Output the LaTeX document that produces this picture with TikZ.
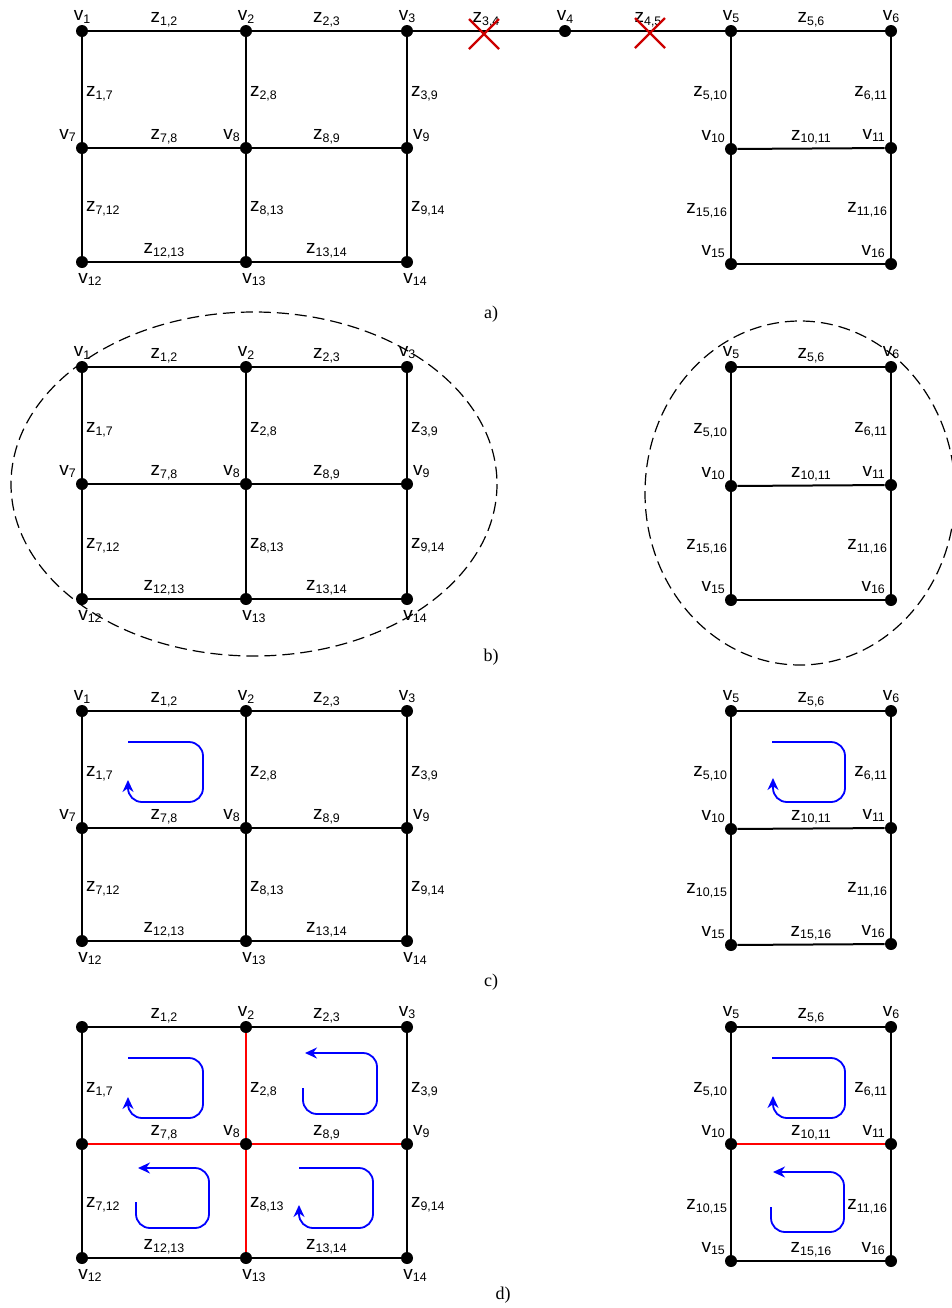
\documentclass[tikz,border=0pt]{standalone}
\usepackage{fontspec}
\setmainfont{Liberation Sans}
\newfontfamily\tagfont{Liberation Serif}
\usetikzlibrary{arrows.meta}
\newcommand{\edgez}[1]{z\raisebox{-1.3pt}{\fontsize{6.2}{7}\selectfont #1}}
\newcommand{\vertv}[1]{v\raisebox{-1.3pt}{\fontsize{6.2}{7}\selectfont #1}}

\begin{document}
\begin{tikzpicture}[x=0.5pt,y=-0.5pt,font=\fontsize{9.5}{11}\selectfont,
 vx/.style={circle,fill,inner sep=0pt,minimum size=6pt},
 vl/.style={inner sep=0.6pt},
 vb/.style={inner sep=2.2pt,xshift=4pt},
 el/.style={inner sep=1.5pt},
 sl/.style={inner sep=1.5pt,yshift=-2pt},
 ed/.style={line width=1pt},
 hot/.style={ed,red},
 cross/.style={line width=1.1pt,red!80!black},
 ring/.style={line width=0.6pt,dash pattern=on 6pt off 3pt},
 turn/.style={line width=0.9pt,blue,rounded corners=7pt,-{Stealth[length=6pt,width=5.5pt]}},
 paneltag/.style={font=\tagfont\fontsize{9}{11}\selectfont}]
\useasboundingbox (0,0) rectangle (952,1308);
% a) the full network with the two cut lines
\node[vx,label={[vl]above:\vertv{1}}] (a1) at (82,31) {};
\node[vx,label={[vl]above:\vertv{2}}] (a2) at (246,31) {};
\node[vx,label={[vl]above:\vertv{3}}] (a3) at (407,31) {};
\node[vx,label={[vl]above:\vertv{4}}] (a4) at (565,31) {};
\node[vx,label={[vl]above:\vertv{5}}] (a5) at (731,31) {};
\node[vx,label={[vl]above:\vertv{6}}] (a6) at (891,31) {};
\node[vx,label={[vl]above left:\vertv{7}}] (a7) at (82,148) {};
\node[vx,label={[vl]above left:\vertv{8}}] (a8) at (246,148) {};
\node[vx,label={[vl]above right:\vertv{9}}] (a9) at (407,148) {};
\node[vx,label={[vl]above left:\vertv{10}}] (a10) at (731,149) {};
\node[vx,label={[vl]above left:\vertv{11}}] (a11) at (891,148) {};
\node[vx,label={[vb]below:\vertv{12}}] (a12) at (82,262) {};
\node[vx,label={[vb]below:\vertv{13}}] (a13) at (246,262) {};
\node[vx,label={[vb]below:\vertv{14}}] (a14) at (407,262) {};
\node[vx,label={[vl]above left:\vertv{15}}] (a15) at (731,264) {};
\node[vx,label={[vl]above left:\vertv{16}}] (a16) at (891,264) {};
\draw[ed] (a1) -- node[el,above] (za12) {\edgez{1,2}} (a2);
\draw[ed] (a2) -- node[el,above] (za23) {\edgez{2,3}} (a3);
\draw[ed] (a3) -- node[el,above] (za34) {\edgez{3,4}} (a4);
\draw[ed] (a4) -- node[el,above] (za45) {\edgez{4,5}} (a5);
\draw[ed] (a5) -- node[el,above] (za56) {\edgez{5,6}} (a6);
\draw[ed] (a1) -- node[sl,right] (za17) {\edgez{1,7}} (a7);
\draw[ed] (a2) -- node[sl,right] (za28) {\edgez{2,8}} (a8);
\draw[ed] (a3) -- node[sl,right] (za39) {\edgez{3,9}} (a9);
\draw[ed] (a5) -- node[sl,left] (za510) {\edgez{5,10}} (a10);
\draw[ed] (a6) -- node[sl,left] (za611) {\edgez{6,11}} (a11);
\draw[ed] (a7) -- node[el,above] (za78) {\edgez{7,8}} (a8);
\draw[ed] (a8) -- node[el,above] (za89) {\edgez{8,9}} (a9);
\draw[ed] (a10) -- node[el,above] (za1011) {\edgez{10,11}} (a11);
\draw[ed] (a7) -- node[sl,right] (za712) {\edgez{7,12}} (a12);
\draw[ed] (a8) -- node[sl,right] (za813) {\edgez{8,13}} (a13);
\draw[ed] (a9) -- node[sl,right] (za914) {\edgez{9,14}} (a14);
\draw[ed] (a10) -- node[sl,left] (za1516) {\edgez{15,16}} (a15);
\draw[ed] (a11) -- node[sl,left] (za1116) {\edgez{11,16}} (a16);
\draw[ed] (a12) -- node[el,above] (za1213) {\edgez{12,13}} (a13);
\draw[ed] (a13) -- node[el,above] (za1314) {\edgez{13,14}} (a14);
\draw[ed] (a15) -- (a16);
\draw[cross] (469,19) -- (499,49);
\draw[cross] (499,19) -- (469,49);
\draw[cross] (635,18) -- (665,48);
\draw[cross] (665,18) -- (635,48);
\node[paneltag] (taga) at (491,314) {a)};
% b) the two islands
\draw[ring] (254,484) ellipse [x radius=243, y radius=172];
\draw[ring] (800,493) ellipse [x radius=155, y radius=172];
\node[vx,label={[vl]above:\vertv{1}}] (b1) at (82,367) {};
\node[vx,label={[vl]above:\vertv{2}}] (b2) at (246,367) {};
\node[vx,label={[vl]above:\vertv{3}}] (b3) at (407,367) {};
\node[vx,label={[vl]above:\vertv{5}}] (b5) at (731,367) {};
\node[vx,label={[vl]above:\vertv{6}}] (b6) at (891,367) {};
\node[vx,label={[vl]above left:\vertv{7}}] (b7) at (82,484) {};
\node[vx,label={[vl]above left:\vertv{8}}] (b8) at (246,484) {};
\node[vx,label={[vl]above right:\vertv{9}}] (b9) at (407,484) {};
\node[vx,label={[vl]above left:\vertv{10}}] (b10) at (731,486) {};
\node[vx,label={[vl]above left:\vertv{11}}] (b11) at (891,485) {};
\node[vx,label={[vb]below:\vertv{12}}] (b12) at (82,599) {};
\node[vx,label={[vb]below:\vertv{13}}] (b13) at (246,599) {};
\node[vx,label={[vb]below:\vertv{14}}] (b14) at (407,599) {};
\node[vx,label={[vl]above left:\vertv{15}}] (b15) at (731,600) {};
\node[vx,label={[vl]above left:\vertv{16}}] (b16) at (891,600) {};
\draw[ed] (b1) -- node[el,above] (zb12) {\edgez{1,2}} (b2);
\draw[ed] (b2) -- node[el,above] (zb23) {\edgez{2,3}} (b3);
\draw[ed] (b5) -- node[el,above] (zb56) {\edgez{5,6}} (b6);
\draw[ed] (b1) -- node[sl,right] (zb17) {\edgez{1,7}} (b7);
\draw[ed] (b2) -- node[sl,right] (zb28) {\edgez{2,8}} (b8);
\draw[ed] (b3) -- node[sl,right] (zb39) {\edgez{3,9}} (b9);
\draw[ed] (b5) -- node[sl,left] (zb510) {\edgez{5,10}} (b10);
\draw[ed] (b6) -- node[sl,left] (zb611) {\edgez{6,11}} (b11);
\draw[ed] (b7) -- node[el,above] (zb78) {\edgez{7,8}} (b8);
\draw[ed] (b8) -- node[el,above] (zb89) {\edgez{8,9}} (b9);
\draw[ed] (b10) -- node[el,above] (zb1011) {\edgez{10,11}} (b11);
\draw[ed] (b7) -- node[sl,right] (zb712) {\edgez{7,12}} (b12);
\draw[ed] (b8) -- node[sl,right] (zb813) {\edgez{8,13}} (b13);
\draw[ed] (b9) -- node[sl,right] (zb914) {\edgez{9,14}} (b14);
\draw[ed] (b10) -- node[sl,left] (zb1516) {\edgez{15,16}} (b15);
\draw[ed] (b11) -- node[sl,left] (zb1116) {\edgez{11,16}} (b16);
\draw[ed] (b12) -- node[el,above] (zb1213) {\edgez{12,13}} (b13);
\draw[ed] (b13) -- node[el,above] (zb1314) {\edgez{13,14}} (b14);
\draw[ed] (b15) -- (b16);
\node[paneltag] (tagb) at (491,657) {b)};
% c) first loop in each island
\node[vx,label={[vl]above:\vertv{1}}] (c1) at (82,711) {};
\node[vx,label={[vl]above:\vertv{2}}] (c2) at (246,711) {};
\node[vx,label={[vl]above:\vertv{3}}] (c3) at (407,711) {};
\node[vx,label={[vl]above:\vertv{5}}] (c5) at (731,711) {};
\node[vx,label={[vl]above:\vertv{6}}] (c6) at (891,711) {};
\node[vx,label={[vl]above left:\vertv{7}}] (c7) at (82,828) {};
\node[vx,label={[vl]above left:\vertv{8}}] (c8) at (246,828) {};
\node[vx,label={[vl]above right:\vertv{9}}] (c9) at (407,828) {};
\node[vx,label={[vl]above left:\vertv{10}}] (c10) at (731,829) {};
\node[vx,label={[vl]above left:\vertv{11}}] (c11) at (891,828) {};
\node[vx,label={[vb]below:\vertv{12}}] (c12) at (82,941) {};
\node[vx,label={[vb]below:\vertv{13}}] (c13) at (246,941) {};
\node[vx,label={[vb]below:\vertv{14}}] (c14) at (407,941) {};
\node[vx,label={[vl]above left:\vertv{15}}] (c15) at (731,945) {};
\node[vx,label={[vl]above left:\vertv{16}}] (c16) at (891,944) {};
\draw[ed] (c1) -- node[el,above] (zc12) {\edgez{1,2}} (c2);
\draw[ed] (c2) -- node[el,above] (zc23) {\edgez{2,3}} (c3);
\draw[ed] (c5) -- node[el,above] (zc56) {\edgez{5,6}} (c6);
\draw[ed] (c1) -- node[sl,right] (zc17) {\edgez{1,7}} (c7);
\draw[ed] (c2) -- node[sl,right] (zc28) {\edgez{2,8}} (c8);
\draw[ed] (c3) -- node[sl,right] (zc39) {\edgez{3,9}} (c9);
\draw[ed] (c5) -- node[sl,left] (zc510) {\edgez{5,10}} (c10);
\draw[ed] (c6) -- node[sl,left] (zc611) {\edgez{6,11}} (c11);
\draw[ed] (c7) -- node[el,above] (zc78) {\edgez{7,8}} (c8);
\draw[ed] (c8) -- node[el,above] (zc89) {\edgez{8,9}} (c9);
\draw[ed] (c10) -- node[el,above] (zc1011) {\edgez{10,11}} (c11);
\draw[ed] (c7) -- node[sl,right] (zc712) {\edgez{7,12}} (c12);
\draw[ed] (c8) -- node[sl,right] (zc813) {\edgez{8,13}} (c13);
\draw[ed] (c9) -- node[sl,right] (zc914) {\edgez{9,14}} (c14);
\draw[ed] (c10) -- node[sl,left] (zc1015) {\edgez{10,15}} (c15);
\draw[ed] (c11) -- node[sl,left] (zc1116) {\edgez{11,16}} (c16);
\draw[ed] (c12) -- node[el,above] (zc1213) {\edgez{12,13}} (c13);
\draw[ed] (c13) -- node[el,above] (zc1314) {\edgez{13,14}} (c14);
\draw[ed] (c15) -- node[el,above] (zc1516) {\edgez{15,16}} (c16);
\draw[turn] (128,742) -- (203,742) -- (203,802) -- (128,802) -- (128,780);
\draw[turn] (772,742) -- (845,742) -- (845,802) -- (773,802) -- (773,778);
\node[paneltag] (tagc) at (491,982) {c)};
% d) all loops, tree branches in red
\node[vx] (d1) at (82,1027) {};
\node[vx,label={[vl]above:\vertv{2}}] (d2) at (246,1027) {};
\node[vx,label={[vl]above:\vertv{3}}] (d3) at (407,1027) {};
\node[vx,label={[vl]above:\vertv{5}}] (d5) at (731,1027) {};
\node[vx,label={[vl]above:\vertv{6}}] (d6) at (891,1027) {};
\node[vx] (d7) at (82,1144) {};
\node[vx,label={[vl]above left:\vertv{8}}] (d8) at (246,1144) {};
\node[vx,label={[vl]above right:\vertv{9}}] (d9) at (407,1144) {};
\node[vx,label={[vl]above left:\vertv{10}}] (d10) at (731,1144) {};
\node[vx,label={[vl]above left:\vertv{11}}] (d11) at (891,1144) {};
\node[vx,label={[vb]below:\vertv{12}}] (d12) at (82,1258) {};
\node[vx,label={[vb]below:\vertv{13}}] (d13) at (246,1258) {};
\node[vx,label={[vb]below:\vertv{14}}] (d14) at (407,1258) {};
\node[vx,label={[vl]above left:\vertv{15}}] (d15) at (731,1261) {};
\node[vx,label={[vl]above left:\vertv{16}}] (d16) at (891,1261) {};
\draw[ed] (d1) -- node[el,above] (zd12) {\edgez{1,2}} (d2);
\draw[ed] (d2) -- node[el,above] (zd23) {\edgez{2,3}} (d3);
\draw[ed] (d5) -- node[el,above] (zd56) {\edgez{5,6}} (d6);
\draw[ed] (d1) -- node[sl,right] (zd17) {\edgez{1,7}} (d7);
\draw[hot] (d2) -- node[sl,right,black] (zd28) {\edgez{2,8}} (d8);
\draw[ed] (d3) -- node[sl,right] (zd39) {\edgez{3,9}} (d9);
\draw[ed] (d5) -- node[sl,left] (zd510) {\edgez{5,10}} (d10);
\draw[ed] (d6) -- node[sl,left] (zd611) {\edgez{6,11}} (d11);
\draw[hot] (d7) -- node[el,above,black] (zd78) {\edgez{7,8}} (d8);
\draw[hot] (d8) -- node[el,above,black] (zd89) {\edgez{8,9}} (d9);
\draw[hot] (d10) -- node[el,above,black] (zd1011) {\edgez{10,11}} (d11);
\draw[ed] (d7) -- node[sl,right] (zd712) {\edgez{7,12}} (d12);
\draw[hot] (d8) -- node[sl,right,black] (zd813) {\edgez{8,13}} (d13);
\draw[ed] (d9) -- node[sl,right] (zd914) {\edgez{9,14}} (d14);
\draw[ed] (d10) -- node[sl,left] (zd1015) {\edgez{10,15}} (d15);
\draw[ed] (d11) -- node[sl,left] (zd1116) {\edgez{11,16}} (d16);
\draw[ed] (d12) -- node[el,above] (zd1213) {\edgez{12,13}} (d13);
\draw[ed] (d13) -- node[el,above] (zd1314) {\edgez{13,14}} (d14);
\draw[ed] (d15) -- node[el,above] (zd1516) {\edgez{15,16}} (d16);
\draw[turn] (128,1058) -- (203,1058) -- (203,1118) -- (128,1118) -- (128,1097);
\draw[turn] (303,1088) -- (303,1114) -- (377,1114) -- (377,1053) -- (305,1053);
\draw[turn] (136,1202) -- (136,1228) -- (209,1228) -- (209,1168) -- (138,1168);
\draw[turn] (299,1168) -- (373,1168) -- (373,1228) -- (299,1228) -- (299,1205);
\draw[turn] (772,1058) -- (845,1058) -- (845,1118) -- (773,1118) -- (773,1096);
\draw[turn] (771,1207) -- (771,1232) -- (844,1232) -- (844,1172) -- (773,1172);
\node[paneltag] (tagd) at (503,1295) {d)};
\end{tikzpicture}
\end{document}
